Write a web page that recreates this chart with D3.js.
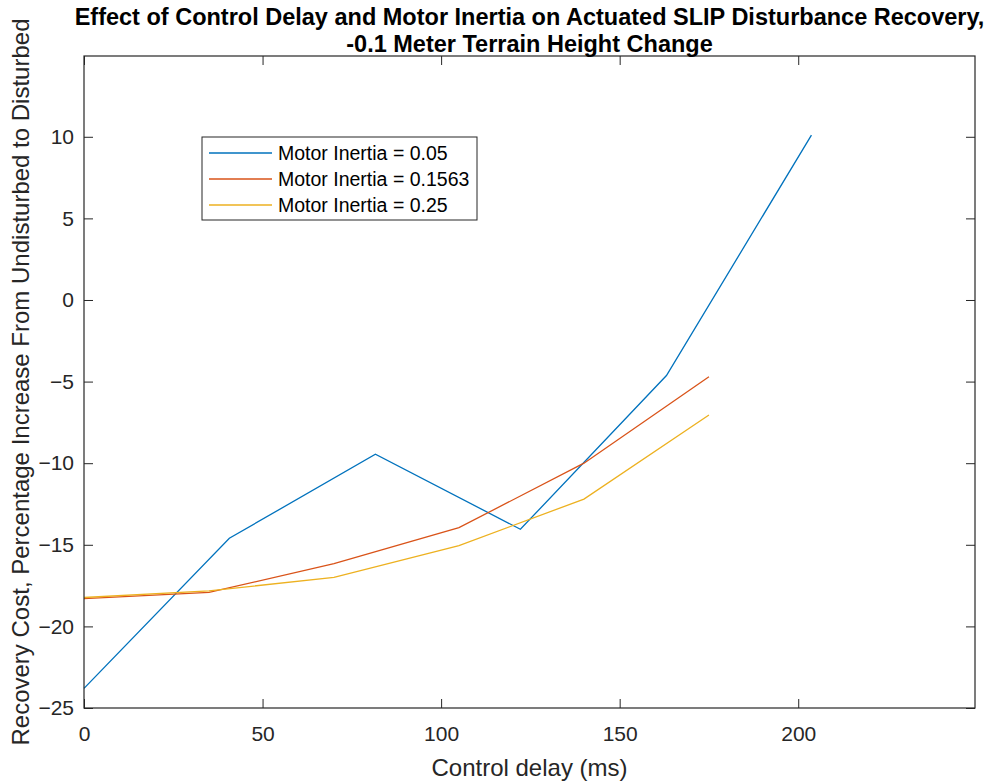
<!DOCTYPE html>
<html>
<head>
<meta charset="utf-8">
<script src="https://cdn.jsdelivr.net/npm/d3@7"></script>
<style>
  body { margin: 0; background: #fff; }
  text { font-family: "Liberation Sans", Arial, sans-serif; fill: #262626; }
</style>
</head>
<body>
<div id="chart"></div>
<script>
// Data
const delayA = [0, 40.7, 81.6, 122.2, 163.1, 203.7];
const delayB = [0, 35, 70, 105, 140, 175];
const inertia005 = [-23.8, -14.6, -9.45, -14.05, -4.63, 10.1];
const inertia01563 = [-18.3, -17.92, -16.15, -13.95, -10.0, -4.7];
const inertia025 = [-18.23, -17.82, -17.0, -15.05, -12.2, -7.05];
const seriesNames = ['Motor Inertia = 0.05', 'Motor Inertia = 0.1563', 'Motor Inertia = 0.25'];
const xTicks = [0, 50, 100, 150, 200];
const yTicks = [-25, -20, -15, -10, -5, 0, 5, 10];

const W = 997, H = 784;
const m = { left: 84, right: 975, top: 56, bottom: 708 };
const colors = ['#0072BD', '#D95319', '#EDB120'];
const axisColor = '#262626';
const tickLen = 9;

const series = [
  { name: seriesNames[0], x: delayA, y: inertia005 },
  { name: seriesNames[1], x: delayB, y: inertia01563 },
  { name: seriesNames[2], x: delayB, y: inertia025 }
];

const svg = d3.select('#chart').append('svg')
  .attr('width', W)
  .attr('height', H);

const x = d3.scaleLinear().domain([0, 249.5]).range([m.left, m.right]);
const y = d3.scaleLinear().domain([-25, 14.95]).range([m.bottom, m.top]);

// Lines
const line = d3.line()
  .x(d => x(d[0]))
  .y(d => y(d[1]));

series.forEach((s, i) => {
  svg.append('path')
    .datum(s.x.map((v, j) => [v, s.y[j]]))
    .attr('d', line)
    .attr('fill', 'none')
    .attr('stroke', colors[i])
    .attr('stroke-width', 1.3);
});

// Axes (ticks inward, mirrored on top/right)
const fs = 21;
const bottomAxis = svg.append('g')
  .attr('transform', `translate(0,${m.bottom})`)
  .call(d3.axisBottom(x).tickValues(xTicks).tickSizeInner(-tickLen).tickSizeOuter(0).tickPadding(18));
const topAxis = svg.append('g')
  .attr('transform', `translate(0,${m.top})`)
  .call(d3.axisTop(x).tickValues(xTicks).tickSizeInner(-tickLen).tickSizeOuter(0).tickFormat(''));
const leftAxis = svg.append('g')
  .attr('transform', `translate(${m.left},0)`)
  .call(d3.axisLeft(y).tickValues(yTicks).tickSizeInner(-tickLen).tickSizeOuter(0).tickPadding(10));
const rightAxis = svg.append('g')
  .attr('transform', `translate(${m.right},0)`)
  .call(d3.axisRight(y).tickValues(yTicks).tickSizeInner(-tickLen).tickSizeOuter(0).tickFormat(''));

[bottomAxis, topAxis, leftAxis, rightAxis].forEach(g => {
  g.select('.domain').remove();
  g.selectAll('.tick line').attr('stroke', axisColor).attr('stroke-width', 1);
  g.selectAll('.tick text')
    .attr('font-size', fs)
    .attr('font-family', '"Liberation Sans", Arial, sans-serif')
    .attr('fill', axisColor);
});
bottomAxis.selectAll('.tick text').attr('dy', '0.71em');

// Box
svg.append('rect')
  .attr('x', m.left)
  .attr('y', m.top)
  .attr('width', m.right - m.left)
  .attr('height', m.bottom - m.top)
  .attr('fill', 'none')
  .attr('stroke', axisColor)
  .attr('stroke-width', 1.2);

// Labels
const cx = (m.left + m.right) / 2;
svg.append('text')
  .attr('x', cx).attr('y', 776)
  .attr('text-anchor', 'middle')
  .attr('font-size', 24)
  .text('Control delay (ms)');

svg.append('text')
  .attr('transform', `translate(29,${(m.top + m.bottom) / 2}) rotate(-90)`)
  .attr('text-anchor', 'middle')
  .attr('font-size', 24)
  .text('Recovery Cost, Percentage Increase From Undisturbed to Disturbed');

const title = svg.append('text')
  .attr('text-anchor', 'middle')
  .attr('font-size', 23.5)
  .attr('font-weight', 'bold')
  .style('fill', '#000');
title.append('tspan').attr('x', cx).attr('y', 25)
  .text('Effect of Control Delay and Motor Inertia on Actuated SLIP Disturbance Recovery,');
title.append('tspan').attr('x', cx).attr('y', 52)
  .text('-0.1 Meter Terrain Height Change');

// Legend
const legend = svg.append('g').attr('transform', 'translate(202,137)');
legend.append('rect')
  .attr('width', 275).attr('height', 83)
  .attr('fill', '#fff')
  .attr('stroke', axisColor)
  .attr('stroke-width', 1);
series.forEach((s, i) => {
  const ly = 16 + i * 26;
  legend.append('line')
    .attr('x1', 7).attr('x2', 70)
    .attr('y1', ly).attr('y2', ly)
    .attr('stroke', colors[i])
    .attr('stroke-width', 1.3);
  legend.append('text')
    .attr('x', 76).attr('y', ly)
    .attr('dy', '0.35em')
    .attr('font-size', 19.5)
    .style('fill', '#000')
    .text(s.name);
});
</script>
</body>
</html>
